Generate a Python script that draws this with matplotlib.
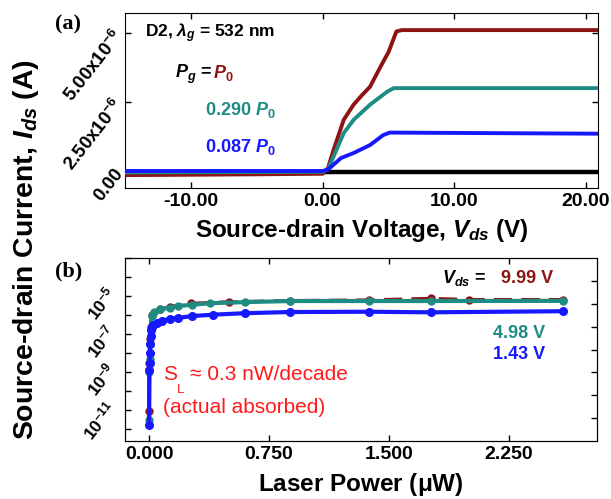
import numpy as np
import matplotlib
matplotlib.use("Agg")
import matplotlib.pyplot as plt
from matplotlib.ticker import NullLocator

plt.rcParams['font.family'] = ['Liberation Sans', 'DejaVu Sans']
plt.rcParams['font.weight'] = 'bold'
plt.rcParams['axes.labelweight'] = 'bold'
plt.rcParams['mathtext.fontset'] = 'custom'
plt.rcParams['mathtext.it'] = 'Liberation Sans:italic:bold'
plt.rcParams['mathtext.rm'] = 'Liberation Sans:bold'
plt.rcParams['mathtext.bf'] = 'Liberation Sans:bold'

# colours
RED = '#8e1414'
TEAL = '#1f8c84'
BLUE = '#1818ff'
ANNOT = '#ff1a1a'

# (a) Ids vs Vds, currents in A
red_v = [-15, -5, 0.0, 0.4, 0.83, 1.6, 2.35, 3.0, 3.6, 4.4, 5.0, 5.6, 6.0, 21]
red_i = [-0.15e-6, -0.12e-6, -0.1e-6, 0.1e-6, 0.76e-6, 1.85e-6, 2.4e-6, 2.75e-6,
         3.05e-6, 3.78e-6, 4.3e-6, 5.05e-6, 5.1e-6, 5.1e-6]
teal_v = [-15, 0.0, 0.4, 0.83, 1.6, 2.35, 3.6, 4.9, 5.4, 21]
teal_i = [-0.05e-6, -0.03e-6, 0.05e-6, 0.52e-6, 1.37e-6, 1.85e-6, 2.4e-6, 2.87e-6, 3.0e-6, 3.0e-6]
blue_v = [-15, 0.0, 0.4, 1.4, 2.35, 3.6, 4.6, 5.1, 21]
blue_i = [0.0, 0.0, 0.05e-6, 0.47e-6, 0.65e-6, 0.94e-6, 1.3e-6, 1.39e-6, 1.35e-6]
dark_v = [-15, 21]
dark_i = [-0.03e-6, -0.03e-6]

# (b) Ids vs laser power (uW)
red_p = [0.0, 0.003, 0.006, 0.010, 0.02, 0.07, 0.13, 0.26, 0.50, 0.88, 1.375, 1.76, 2.0, 2.59]
red_ip = [9.5e-12, 3.2e-9, 5.6e-8, 2.5e-7, 1.0e-6, 2.1e-6, 2.8e-6, 4.2e-6, 5.0e-6,
          5.8e-6, 6.3e-6, 7.6e-6, 6.6e-6, 6.6e-6]
teal_p = [0.0, 0.002, 0.004, 0.006, 0.010, 0.016, 0.03, 0.07, 0.13, 0.18, 0.27, 0.38,
          0.60, 0.88, 1.375, 1.76, 2.59]
teal_ip = [3.2e-12, 1.0e-9, 5.0e-9, 3.2e-8, 2.0e-7, 8.9e-7, 1.4e-6, 2.0e-6, 2.5e-6,
           3.0e-6, 3.5e-6, 4.2e-6, 4.8e-6, 5.5e-6, 5.5e-6, 5.5e-6, 5.6e-6]
blue_p = [0.0, 0.002, 0.004, 0.006, 0.008, 0.010, 0.013, 0.017, 0.025, 0.05, 0.08, 0.13,
          0.18, 0.27, 0.40, 0.60, 0.88, 1.375, 1.76, 2.59]
blue_ip = [1.6e-12, 1.3e-9, 3.2e-9, 1.0e-8, 3.2e-8, 7.9e-8, 1.6e-7, 2.5e-7, 3.2e-7, 4.0e-7,
           5.0e-7, 6.3e-7, 7.1e-7, 8.9e-7, 1.05e-6, 1.26e-6, 1.45e-6, 1.5e-6, 1.4e-6, 1.6e-6]

a_xticks = [-10, 0, 10, 20]
a_xlabels = ['-10.00', '0.00', '10.00', '20.00']
a_yticks = [0, 2.5e-6, 5e-6]
a_ylabels = ['0.00', r'2.50x10$^{-6}$', r'5.00x10$^{-6}$']
b_xticks = [0, 0.75, 1.5, 2.25]
b_xlabels = ['0.000', '0.750', '1.500', '2.250']
b_decades = [1e-12, 1e-11, 1e-10, 1e-9, 1e-8, 1e-7, 1e-6, 1e-5, 1e-4, 1e-3]
b_ylabels = ['', r'10$^{-11}$', '', r'10$^{-9}$', '', r'10$^{-7}$', '', r'10$^{-5}$', '', '']

fig = plt.figure(figsize=(6.11, 4.99), dpi=100)
ax1 = fig.add_axes([0.2046, 0.623, 0.774, 0.351])
ax2 = fig.add_axes([0.2046, 0.1162, 0.7725, 0.3667])

# ---- panel (a)
ax1.plot(dark_v, dark_i, color='black', lw=3.2, zorder=2)
ax1.plot(red_v, red_i, color=RED, lw=2.8, zorder=3)
ax1.plot(teal_v, teal_i, color=TEAL, lw=2.8, zorder=4)
ax1.plot(blue_v, blue_i, color=BLUE, lw=2.8, zorder=5)
ax1.set_xlim(-15, 20.9)
ax1.set_ylim(-0.62e-6, 5.72e-6)
ax1.set_xticks(a_xticks)
ax1.set_xticklabels(a_xlabels, fontsize=14)
ax1.set_yticks(a_yticks)
ax1.set_yticklabels(a_ylabels, fontsize=13.5, rotation=52, ha='right', va='center',
                    rotation_mode='anchor')
ax1.tick_params(direction='in', top=True, right=True, length=4, width=1)
ax1.set_xlabel(r'Source-drain Voltage, $V_{ds}$ (V)', fontsize=17.5, labelpad=5)

ax1.text(0.042, 0.885, r'D2, $\lambda_g$ = 532 nm', transform=ax1.transAxes,
         fontsize=12.5, va='center')
ax1.text(0.106, 0.629, r'$P_g$ = ', transform=ax1.transAxes, fontsize=13, va='baseline')
ax1.text(0.186, 0.629, r'$P_0$', transform=ax1.transAxes, color=RED, fontsize=13,
         va='baseline')
ax1.text(0.169, 0.445, r'0.290 $P_0$', transform=ax1.transAxes, color=TEAL,
         fontsize=13, va='center')
ax1.text(0.169, 0.235, r'0.087 $P_0$', transform=ax1.transAxes, color=BLUE,
         fontsize=13, va='center')

# ---- panel (b)
ax2.plot(red_p, red_ip, color=RED, lw=2.2, ls=(0, (6, 3)), marker='o', ms=5, zorder=3)
ax2.plot(teal_p, teal_ip, color=TEAL, lw=3, marker='o', ms=5, zorder=4)
ax2.plot(blue_p, blue_ip, color=BLUE, lw=3, marker='o', ms=5.5, zorder=5)
ax2.set_yscale('log')
ax2.set_xlim(-0.15, 2.8)
ax2.set_ylim(2.4e-13, 1e-3)
ax2.set_xticks(b_xticks)
ax2.set_xticklabels(b_xlabels, fontsize=14)
ax2.set_yticks(b_decades)
ax2.set_yticklabels(b_ylabels, fontsize=12.5, rotation=52, ha='right', va='bottom',
                    rotation_mode='anchor')
ax2.yaxis.set_minor_locator(NullLocator())
ax2.tick_params(direction='in', top=True, right=False, length=4, width=1)
ax2.set_xlabel(r'Laser Power ($\mathrm{\mu}$W)', fontsize=17.5, labelpad=6)

tw = ax2.twinx()
tw.set_ylim(0, 8)
tw.set_yticks([1, 2, 3, 4, 5, 6, 7])
tw.tick_params(direction='in', labelright=False, length=4, width=1)

ax2.text(0.672, 0.863, r'$V_{ds}$ = ', transform=ax2.transAxes, fontsize=13, va='baseline')
ax2.text(0.907, 0.863, '9.99 V', transform=ax2.transAxes, color=RED, fontsize=13,
         ha='right', va='baseline')
ax2.text(0.89, 0.59, '4.98 V', transform=ax2.transAxes, color=TEAL, fontsize=13,
         ha='right', va='center')
ax2.text(0.89, 0.475, '1.43 V', transform=ax2.transAxes, color=BLUE, fontsize=13,
         ha='right', va='center')
ax2.text(0.0805, 0.333, 'S', transform=ax2.transAxes, color=ANNOT, fontsize=15,
         fontweight='normal', va='baseline')
ax2.text(0.110, 0.262, 'L', transform=ax2.transAxes, color=ANNOT, fontsize=9.5,
         fontweight='normal', va='baseline')
ax2.text(0.138, 0.333, '≈ 0.3 nW/decade', transform=ax2.transAxes, color=ANNOT,
         fontsize=15, fontweight='normal', va='baseline')
ax2.text(0.0805, 0.155, '(actual absorbed)', transform=ax2.transAxes,
         color=ANNOT, fontsize=15, fontweight='normal', va='baseline')

fig.text(0.042, 0.499, r'Source-drain Current, $I_{ds}$ (A)', rotation=90,
         fontsize=20.4, ha='center', va='center')
fig.text(0.09, 0.95, '(a)', family='Liberation Serif', fontsize=16, va='center')
fig.text(0.09, 0.455, '(b)', family='Liberation Serif', fontsize=16, va='center')

fig.savefig('out.png', dpi=100)
